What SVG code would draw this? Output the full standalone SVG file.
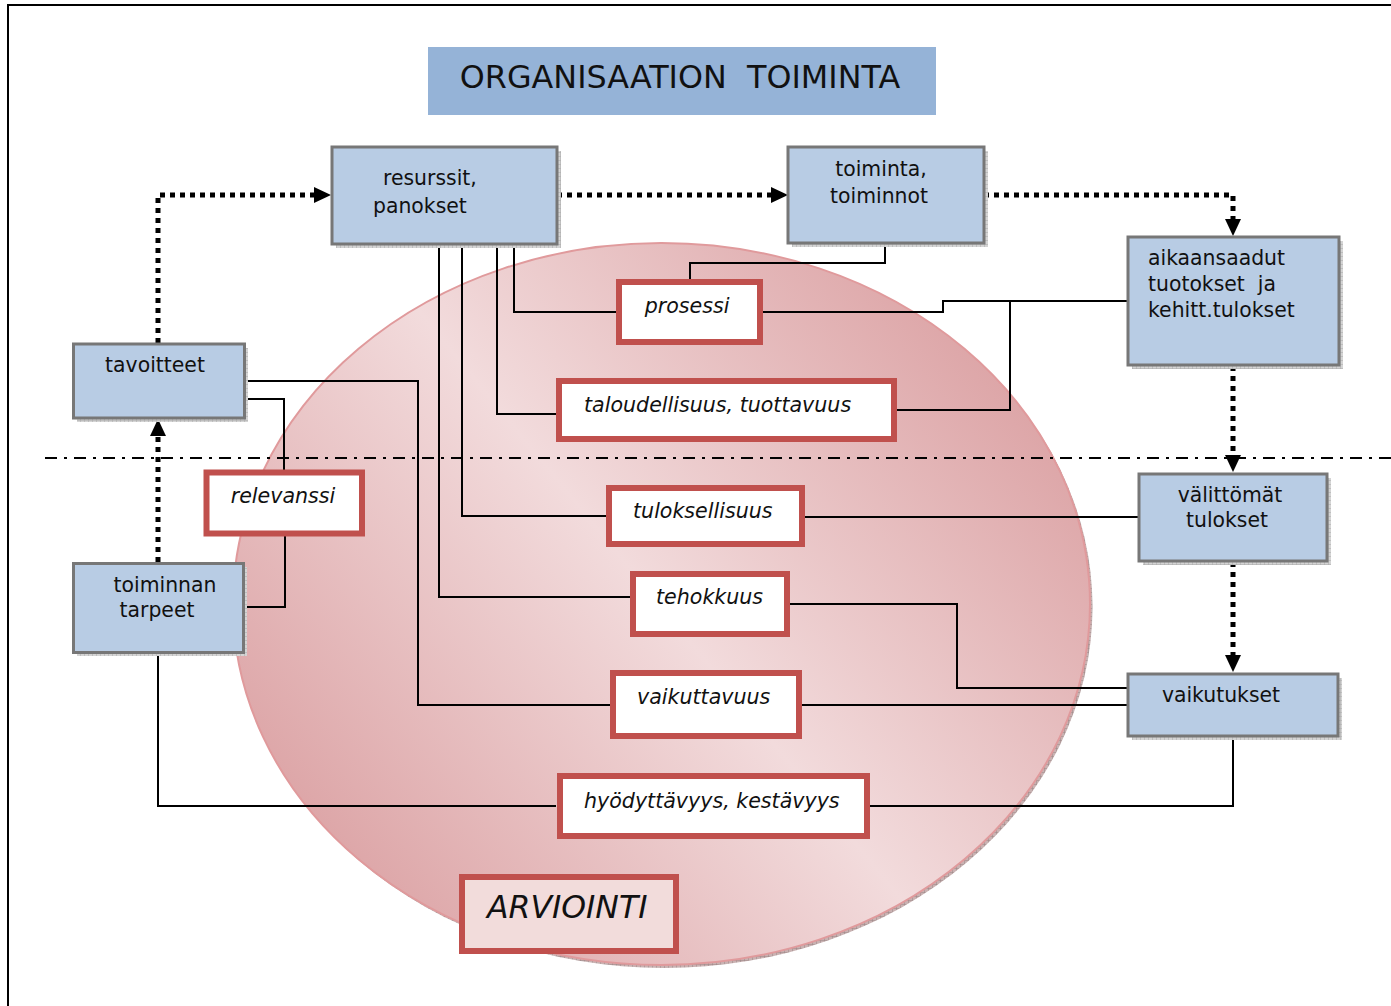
<svg xmlns="http://www.w3.org/2000/svg" width="1391" height="1006" viewBox="0 0 1391 1006">
<defs>
<style>
.t{font-family:"DejaVu Sans","Liberation Sans",sans-serif;font-size:20.4px;fill:#111}
.i{font-family:"DejaVu Sans","Liberation Sans",sans-serif;font-size:20.6px;font-style:italic;fill:#111}
.c{text-anchor:middle}
.blue{fill:#b8cce4;stroke:#777;stroke-width:3}
.red{fill:#fff;stroke:#c0504d;stroke-width:6}
.sh{fill:url(#hatch)}
.ln{fill:none;stroke:#000;stroke-width:2}
.dot{fill:none;stroke:#000;stroke-width:5;stroke-dasharray:5 5}
</style>
<pattern id="hatch" width="4" height="4" patternUnits="userSpaceOnUse">
<rect width="4" height="4" fill="#d4d4d4"/>
<path d="M0 0H4M0 0V4" stroke="#a8a8a8" stroke-width="1"/>
</pattern>
<pattern id="hatchr" width="4" height="4" patternUnits="userSpaceOnUse">
<rect width="4" height="4" fill="#c9b2b2"/>
<path d="M0 0H4M0 0V4" stroke="#9a8484" stroke-width="1"/>
</pattern>
<linearGradient id="eg" gradientUnits="userSpaceOnUse" x1="300" y1="900" x2="1020" y2="310">
<stop offset="0" stop-color="#da9ea0"/>
<stop offset="0.5" stop-color="#f2dbdc"/>
<stop offset="1" stop-color="#da9ea0"/>
</linearGradient>
<marker id="ah" markerUnits="userSpaceOnUse" markerWidth="18" markerHeight="18" refX="0" refY="8" orient="auto" viewBox="0 0 18 16">
<path d="M0,0 L17,8 L0,16 Z" fill="#000"/>
</marker>
</defs>
<rect width="1391" height="1006" fill="#fff"/>
<rect x="8" y="5" width="1400" height="1100" fill="none" stroke="#000" stroke-width="2"/>

<g id="arviointi-ellipse">
<ellipse cx="664" cy="607" rx="428.5" ry="361" fill="url(#hatchr)"/>
<ellipse cx="661.5" cy="604" rx="428.5" ry="361" fill="url(#eg)" stroke="#e09a9c" stroke-width="2"/>
</g>

<g id="title">
<rect x="428" y="47" width="508" height="68" fill="#95b3d7"/>
<text x="680" y="88" class="t c" style="font-size:31.8px" xml:space="preserve">ORGANISAATION  TOIMINTA</text>
</g>

<line x1="45" y1="458" x2="1391" y2="458" stroke="#000" stroke-width="2" stroke-dasharray="12 7 3 7"/>

<g id="connectors">
<path class="ln" d="M514,244 V312 H616"/>
<path class="ln" d="M497,244 V414 H556"/>
<path class="ln" d="M462,244 V516 H606"/>
<path class="ln" d="M439,244 V597 H630"/>
<path class="ln" d="M885,243 V263 H690 V280"/>
<path class="ln" d="M763,312 H943 V301 H1127"/>
<path class="ln" d="M1010,301 V410 H896"/>
<path class="ln" d="M805,517 H1138"/>
<path class="ln" d="M790,604 H957 V688 H1127"/>
<path class="ln" d="M802,705 H1127"/>
<path class="ln" d="M245,381 H418 V705 H610"/>
<path class="ln" d="M245,399 H284 V470"/>
<path class="ln" d="M285,535 V607 H245"/>
<path class="ln" d="M158,654 V806 H556"/>
<path class="ln" d="M868,806 H1233 V738"/>
<path class="dot" d="M158,343 V195 H314" marker-end="url(#ah)"/>
<path class="dot" d="M557,195 H771" marker-end="url(#ah)"/>
<path class="dot" d="M984,195 H1233 V219" marker-end="url(#ah)"/>
<path class="dot" d="M1233,366 V455" marker-end="url(#ah)"/>
<path class="dot" d="M1233,562 V655" marker-end="url(#ah)"/>
<path class="dot" d="M158,562 V436" marker-end="url(#ah)"/>
</g>

<g id="resurssit">
<rect class="sh" x="336" y="151" width="225" height="97"/>
<rect class="blue" x="332" y="147" width="225" height="97"/>
<text class="t" x="383" y="185">resurssit,</text>
<text class="t" x="373" y="213">panokset</text>
</g>
<g id="toiminta">
<rect class="sh" x="792" y="151" width="196" height="96"/>
<rect class="blue" x="788" y="147" width="196" height="96"/>
<text class="t c" x="881" y="176">toiminta,</text>
<text class="t c" x="879" y="203">toiminnot</text>
</g>
<g id="aikaansaadut">
<rect class="sh" x="1132" y="241" width="211" height="128"/>
<rect class="blue" x="1128" y="237" width="211" height="128"/>
<text class="t" x="1148" y="265">aikaansaadut</text>
<text class="t" x="1148" y="291" xml:space="preserve">tuotokset  ja</text>
<text class="t" x="1148" y="317">kehitt.tulokset</text>
</g>
<g id="tavoitteet">
<rect class="sh" x="77" y="348" width="171" height="74"/>
<rect class="blue" x="73.5" y="344" width="171" height="74"/>
<text class="t c" x="155" y="372">tavoitteet</text>
</g>
<g id="toiminnan-tarpeet">
<rect class="sh" x="77" y="567" width="170" height="89"/>
<rect class="blue" x="73.5" y="563.5" width="170" height="89"/>
<text class="t c" x="165" y="592">toiminnan</text>
<text class="t c" x="157" y="617">tarpeet</text>
</g>
<g id="valittomat">
<rect class="sh" x="1143" y="478" width="188" height="87"/>
<rect class="blue" x="1139" y="474" width="188" height="87"/>
<text class="t c" x="1230" y="502">välittömät</text>
<text class="t c" x="1227" y="527">tulokset</text>
</g>
<g id="vaikutukset">
<rect class="sh" x="1132" y="678" width="210" height="62"/>
<rect class="blue" x="1128" y="674" width="210" height="62"/>
<text class="t c" x="1221" y="702">vaikutukset</text>
</g>

<g id="prosessi">
<rect class="red" x="619" y="282" width="141" height="60"/>
<text class="i c" x="687" y="313">prosessi</text>
</g>
<g id="taloudellisuus">
<rect class="red" x="559" y="381" width="335" height="58"/>
<text class="i" x="584" y="412">taloudellisuus, tuottavuus</text>
</g>
<g id="relevanssi">
<rect class="red" x="206.5" y="472.5" width="155.5" height="61"/>
<text class="i c" x="283" y="503">relevanssi</text>
</g>
<g id="tuloksellisuus">
<rect class="red" x="609" y="488" width="193" height="56"/>
<text class="i" x="633" y="518">tuloksellisuus</text>
</g>
<g id="tehokkuus">
<rect class="red" x="633" y="574" width="154" height="60"/>
<text class="i" x="656" y="604">tehokkuus</text>
</g>
<g id="vaikuttavuus">
<rect class="red" x="613" y="673" width="186" height="63"/>
<text class="i" x="637" y="704">vaikuttavuus</text>
</g>
<g id="hyodyttavyys">
<rect class="red" x="560" y="776" width="307" height="60"/>
<text class="i" x="584" y="808">hyödyttävyys, kestävyys</text>
</g>
<g id="arviointi">
<rect class="red" x="462" y="877" width="214" height="74" style="fill:#f2dcdb"/>
<text class="i" x="487" y="918" style="font-size:31.5px">ARVIOINTI</text>
</g>
</svg>
